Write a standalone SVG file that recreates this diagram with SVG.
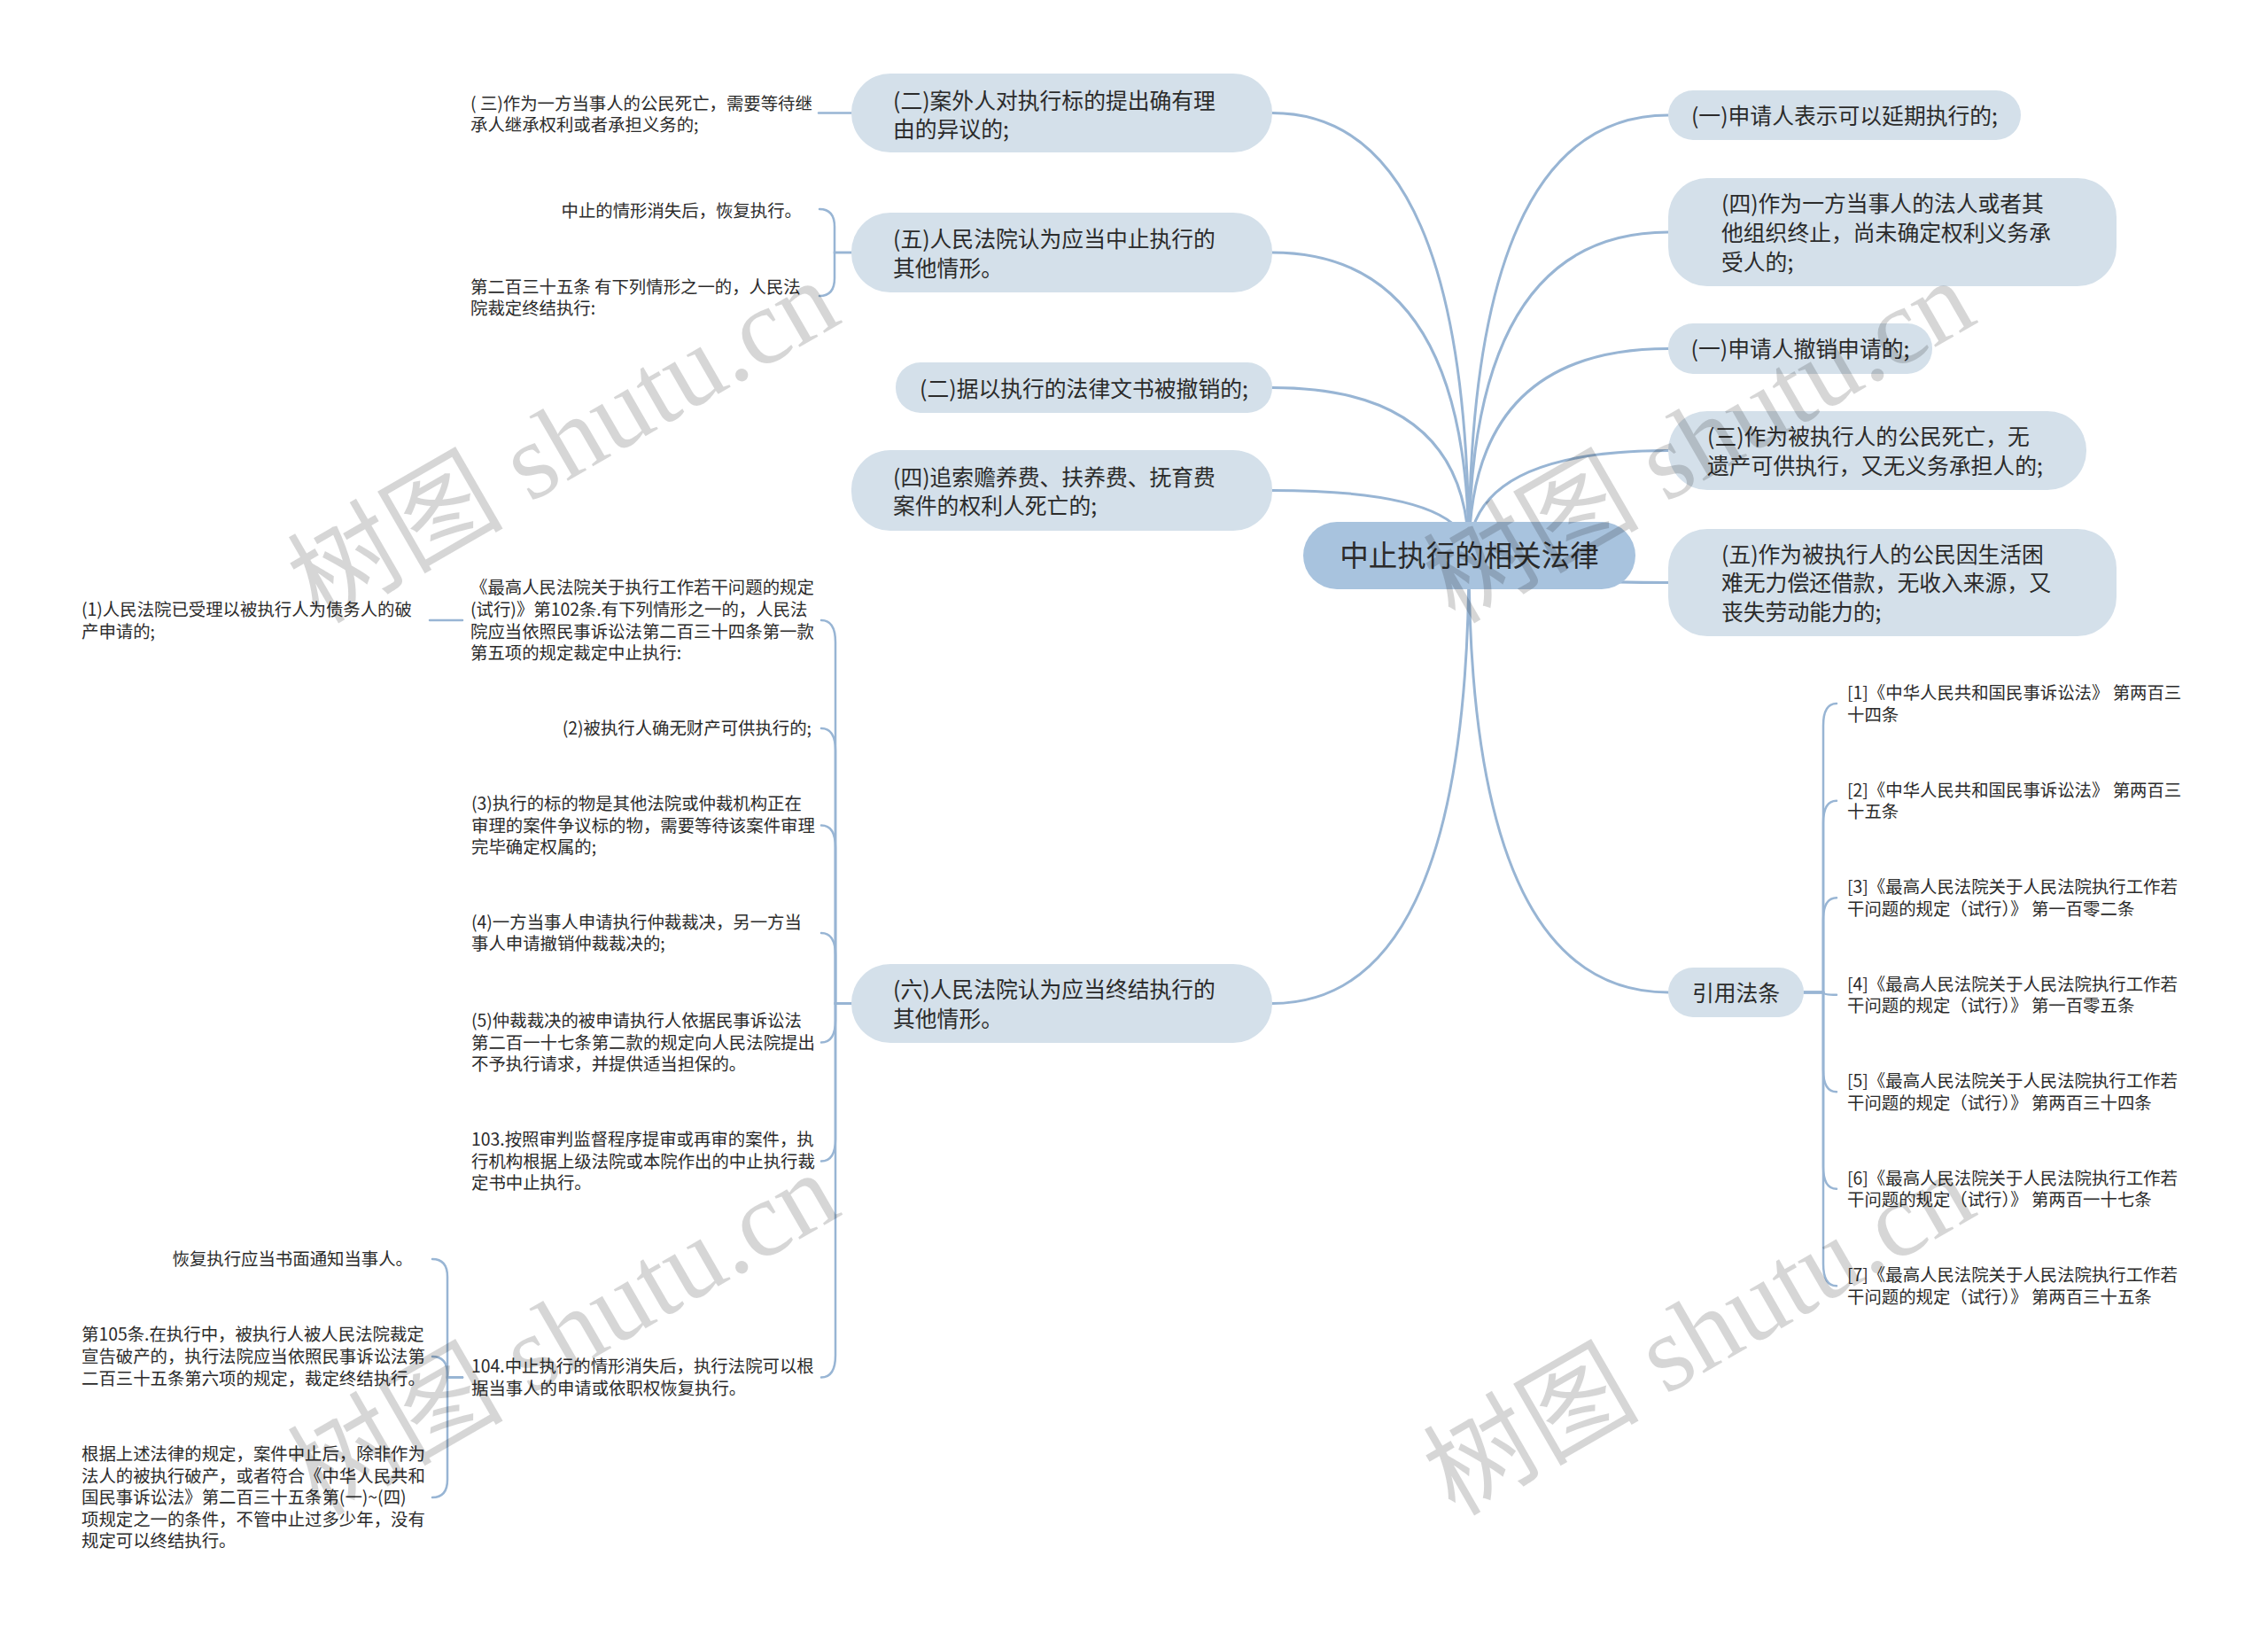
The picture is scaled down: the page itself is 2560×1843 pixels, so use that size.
<svg xmlns="http://www.w3.org/2000/svg" width="2560" height="1843" viewBox="0 0 2560 1843">
<style>
text{font-family:"Noto Sans CJK SC","Noto Sans",sans-serif;fill:#2b2b2b}
.nb{fill:#d4e0ea}
.cb{fill:#a8c3de}
.t{font-size:24.8px}
.tc{font-size:32.5px;text-anchor:middle}
.m{text-anchor:middle}
.s{font-size:19.4px}
.e{text-anchor:end}
.ln{fill:none;stroke:#98b5d4;stroke-width:3;stroke-linecap:round}
.sl{fill:none;stroke:#98b5d4;stroke-width:2.5;stroke-linecap:round}
.wm{font-size:122px;fill:#000;fill-opacity:0.16}
.wmc{font-family:"Noto Sans CJK SC",sans-serif}
.wml{font-family:"Liberation Serif",serif}
</style>
<rect width="2560" height="1843" fill="#ffffff"/>
<g id="connectors">
<path class="ln" d="M1658,627 Q1658,127.5 1436,127.5"/>
<path class="ln" d="M1658,627 Q1658,285 1436,285"/>
<path class="ln" d="M1658,627 Q1658,437.5 1436,437.5"/>
<path class="ln" d="M1658,627 Q1658,553.5 1436,553.5"/>
<path class="ln" d="M1658,627 Q1658,1132.5 1436,1132.5"/>
<path class="ln" d="M1658,627 Q1658,130 1883,130"/>
<path class="ln" d="M1658,627 Q1658,262 1883,262"/>
<path class="ln" d="M1658,627 Q1658,393.5 1883,393.5"/>
<path class="ln" d="M1658,627 Q1658,508.5 1883,508.5"/>
<path class="ln" d="M1658,627 Q1658,657.5 1883,657.5"/>
<path class="ln" d="M1658,627 Q1658,1120 1883,1120"/>
<path class="sl" d="M961,127.5 H924"/>
<path class="sl" d="M961,285 H942 V256 Q942,236 925,236"/>
<path class="sl" d="M961,285 H942 V314 Q942,334 925,334"/>
<path class="sl" d="M961,1132.5 H943 V725 Q943,700 927,700"/>
<path class="sl" d="M961,1132.5 H943 V847 Q943,822 927,822"/>
<path class="sl" d="M961,1132.5 H943 V956.5 Q943,931.5 927,931.5"/>
<path class="sl" d="M961,1132.5 H943 V1078 Q943,1053 927,1053"/>
<path class="sl" d="M961,1132.5 H943 V1151.5 Q943,1176.5 927,1176.5"/>
<path class="sl" d="M961,1132.5 H943 V1285.5 Q943,1310.5 927,1310.5"/>
<path class="sl" d="M961,1132.5 H943 V1529.5 Q943,1554.5 927,1554.5"/>
<path class="sl" d="M522,700 H485"/>
<path class="sl" d="M522,1554.5 H505 V1441 Q505,1421 488,1421"/>
<path class="sl" d="M522,1554.5 H505 V1551 Q505,1531 488,1531"/>
<path class="sl" d="M522,1554.5 H505 V1670 Q505,1690 488,1690"/>
<path class="sl" d="M2036,1120 H2058 V819 Q2058,794 2073,794"/>
<path class="sl" d="M2036,1120 H2058 V928.75 Q2058,903.75 2073,903.75"/>
<path class="sl" d="M2036,1120 H2058 V1038.25 Q2058,1013.25 2073,1013.25"/>
<path class="sl" d="M2036,1120 H2058 Q2058,1122.75 2073,1122.75"/>
<path class="sl" d="M2036,1120 H2058 V1207.25 Q2058,1232.25 2073,1232.25"/>
<path class="sl" d="M2036,1120 H2058 V1316.75 Q2058,1341.75 2073,1341.75"/>
<path class="sl" d="M2036,1120 H2058 V1426.25 Q2058,1451.25 2073,1451.25"/>
</g>
<g id="n_root"><rect class="cb" x="1471" y="589" width="375" height="76" rx="38"/><text class="tc" x="1658.5" y="639.4">中止执行的相关法律</text></g>
<g id="n_l1"><rect class="nb" x="961" y="83" width="475" height="89" rx="44"/><text class="t" x="1008" y="122.5">(二)案外人对执行标的提出确有理</text><text class="t" x="1008" y="154.5">由的异议的;</text></g>
<g id="n_l2"><rect class="nb" x="961" y="240" width="475" height="90" rx="44"/><text class="t" x="1008" y="278.5">(五)人民法院认为应当中止执行的</text><text class="t" x="1008" y="311.5">其他情形。</text></g>
<g id="n_l3"><rect class="nb" x="1011" y="409" width="425" height="57" rx="28"/><text class="t m" x="1223.5" y="447.5">(二)据以执行的法律文书被撤销的;</text></g>
<g id="n_l4"><rect class="nb" x="961" y="508" width="475" height="91" rx="44"/><text class="t" x="1008" y="547.5">(四)追索赡养费、扶养费、抚育费</text><text class="t" x="1008" y="579.5">案件的权利人死亡的;</text></g>
<g id="n_l5"><rect class="nb" x="961" y="1088" width="475" height="89" rx="44"/><text class="t" x="1008" y="1125.5">(六)人民法院认为应当终结执行的</text><text class="t" x="1008" y="1158.5">其他情形。</text></g>
<g id="n_r1"><rect class="nb" x="1883" y="102" width="398" height="56" rx="28"/><text class="t m" x="2082" y="139.5">(一)申请人表示可以延期执行的;</text></g>
<g id="n_r2"><rect class="nb" x="1883" y="201" width="506" height="122" rx="44"/><text class="t" x="1943" y="238.5">(四)作为一方当事人的法人或者其</text><text class="t" x="1943" y="271.5">他组织终止，尚未确定权利义务承</text><text class="t" x="1943" y="304.5">受人的;</text></g>
<g id="n_r3"><rect class="nb" x="1883" y="365" width="298" height="57" rx="28"/><text class="t m" x="2032" y="403">(一)申请人撤销申请的;</text></g>
<g id="n_r4"><rect class="nb" x="1883" y="464" width="472" height="89" rx="44"/><text class="t" x="1927" y="501.5">(三)作为被执行人的公民死亡，无</text><text class="t" x="1927" y="534.5">遗产可供执行，又无义务承担人的;</text></g>
<g id="n_r5"><rect class="nb" x="1883" y="597" width="506" height="121" rx="44"/><text class="t" x="1943" y="634.5">(五)作为被执行人的公民因生活困</text><text class="t" x="1943" y="666.5">难无力偿还借款，无收入来源，又</text><text class="t" x="1943" y="699.5">丧失劳动能力的;</text></g>
<g id="n_refs"><rect class="nb" x="1883" y="1092" width="153" height="56" rx="28"/><text class="t m" x="1959.5" y="1129.5">引用法条</text></g>
<g id="s_l1a"><text class="s" x="531" y="123.5">( 三)作为一方当事人的公民死亡，需要等待继</text><text class="s" x="531" y="148">承人继承权利或者承担义务的;</text></g>
<g id="s_l2a"><text class="s e" x="905" y="245">中止的情形消失后，恢复执行。</text></g>
<g id="s_l2b"><text class="s" x="531" y="331">第二百三十五条 有下列情形之一的，人民法</text><text class="s" x="531" y="355">院裁定终结执行:</text></g>
<g id="s_l5a"><text class="s" x="531" y="670">《最高人民法院关于执行工作若干问题的规定</text><text class="s" x="531" y="695">(试行)》第102条.有下列情形之一的，人民法</text><text class="s" x="531" y="719.5">院应当依照民事诉讼法第二百三十四条第一款</text><text class="s" x="531" y="744">第五项的规定裁定中止执行:</text></g>
<g id="s_l5a1"><text class="s" x="92" y="695">(1)人民法院已受理以被执行人为债务人的破</text><text class="s" x="92" y="719.5">产申请的;</text></g>
<g id="s_l5b"><text class="s e" x="916" y="829">(2)被执行人确无财产可供执行的;</text></g>
<g id="s_l5c"><text class="s" x="532" y="914">(3)执行的标的物是其他法院或仲裁机构正在</text><text class="s" x="532" y="938.5">审理的案件争议标的物，需要等待该案件审理</text><text class="s" x="532" y="963">完毕确定权属的;</text></g>
<g id="s_l5d"><text class="s" x="532" y="1048">(4)一方当事人申请执行仲裁裁决，另一方当</text><text class="s" x="532" y="1072">事人申请撤销仲裁裁决的;</text></g>
<g id="s_l5e"><text class="s" x="532" y="1158.5">(5)仲裁裁决的被申请执行人依据民事诉讼法</text><text class="s" x="532" y="1183.5">第二百一十七条第二款的规定向人民法院提出</text><text class="s" x="532" y="1208">不予执行请求，并提供适当担保的。</text></g>
<g id="s_l5f"><text class="s" x="532" y="1293">103.按照审判监督程序提审或再审的案件，执</text><text class="s" x="532" y="1317.5">行机构根据上级法院或本院作出的中止执行裁</text><text class="s" x="532" y="1342">定书中止执行。</text></g>
<g id="s_l5g"><text class="s" x="532" y="1549">104.中止执行的情形消失后，执行法院可以根</text><text class="s" x="532" y="1574">据当事人的申请或依职权恢复执行。</text></g>
<g id="s_l5g1"><text class="s e" x="466" y="1428">恢复执行应当书面通知当事人。</text></g>
<g id="s_l5g2"><text class="s" x="92" y="1513">第105条.在执行中，被执行人被人民法院裁定</text><text class="s" x="92" y="1538">宣告破产的，执行法院应当依照民事诉讼法第</text><text class="s" x="92" y="1563">二百三十五条第六项的规定，裁定终结执行。</text></g>
<g id="s_l5g3"><text class="s" x="92" y="1648">根据上述法律的规定，案件中止后，除非作为</text><text class="s" x="92" y="1672.5">法人的被执行破产，或者符合《中华人民共和</text><text class="s" x="92" y="1697">国民事诉讼法》第二百三十五条第(一)~(四)</text><text class="s" x="92" y="1721.5">项规定之一的条件，不管中止过多少年，没有</text><text class="s" x="92" y="1746">规定可以终结执行。</text></g>
<g id="s_ref1"><text class="s" x="2085" y="789">[1]《中华人民共和国民事诉讼法》 第两百三</text><text class="s" x="2085" y="813.5">十四条</text></g>
<g id="s_ref2"><text class="s" x="2085" y="898.5">[2]《中华人民共和国民事诉讼法》 第两百三</text><text class="s" x="2085" y="923">十五条</text></g>
<g id="s_ref3"><text class="s" x="2085" y="1008">[3]《最高人民法院关于人民法院执行工作若</text><text class="s" x="2085" y="1032.5">干问题的规定（试行）》 第一百零二条</text></g>
<g id="s_ref4"><text class="s" x="2085" y="1117.5">[4]《最高人民法院关于人民法院执行工作若</text><text class="s" x="2085" y="1142">干问题的规定（试行）》 第一百零五条</text></g>
<g id="s_ref5"><text class="s" x="2085" y="1227">[5]《最高人民法院关于人民法院执行工作若</text><text class="s" x="2085" y="1251.5">干问题的规定（试行）》 第两百三十四条</text></g>
<g id="s_ref6"><text class="s" x="2085" y="1336.5">[6]《最高人民法院关于人民法院执行工作若</text><text class="s" x="2085" y="1361">干问题的规定（试行）》 第两百一十七条</text></g>
<g id="s_ref7"><text class="s" x="2085" y="1446">[7]《最高人民法院关于人民法院执行工作若</text><text class="s" x="2085" y="1470.5">干问题的规定（试行）》 第两百三十五条</text></g>
<g id="watermark">
<text class="wm" transform="translate(360,705) rotate(-30)"><tspan class="wmc">树图</tspan><tspan class="wml"> shutu.cn</tspan></text>
<text class="wm" transform="translate(1642,705) rotate(-30)"><tspan class="wmc">树图</tspan><tspan class="wml"> shutu.cn</tspan></text>
<text class="wm" transform="translate(360,1712) rotate(-30)"><tspan class="wmc">树图</tspan><tspan class="wml"> shutu.cn</tspan></text>
<text class="wm" transform="translate(1642,1712) rotate(-30)"><tspan class="wmc">树图</tspan><tspan class="wml"> shutu.cn</tspan></text>
</g>
</svg>
